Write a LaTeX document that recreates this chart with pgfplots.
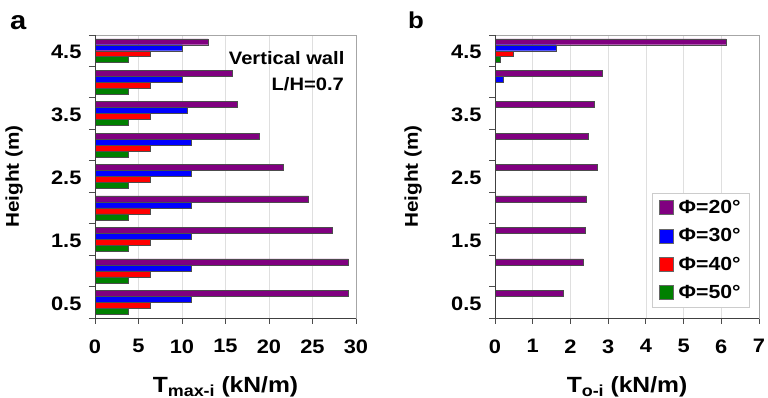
\documentclass[border=0pt]{standalone}
\usepackage{fontspec}
\setmainfont{Liberation Sans}[FakeStretch=1.12]
\usepackage{pgfplots}
\pgfplotsset{compat=1.18}
\definecolor{cpur}{RGB}{128,0,128}
\definecolor{cblu}{RGB}{0,0,255}
\definecolor{cred}{RGB}{255,0,0}
\definecolor{cgrn}{RGB}{0,128,0}
\newcommand{\fs}[1]{\bfseries\fontsize{#1}{#1}\selectfont}
\pgfplotsset{
  myaxis/.style={
    scale only axis, height=283pt,
    xbar, bar width=0.095,
    xmin=0, ymin=0.25, ymax=4.75,
    ytick={0.25,1.25,2.25,3.25,4.25},
    yticklabels={0.5,1.5,2.5,3.5,4.5},
    minor ytick={0.75,1.75,2.75,3.75,4.75},
    yticklabel style={yshift=14.5pt, xshift=-4pt},
    xticklabel style={yshift=-12pt},
    tick align=outside, major tick length=6pt, minor tick length=6pt,
    xtick pos=left, ytick pos=left,
    xmajorgrids, grid style={gray!25, line width=0.6pt},
    axis line style={gray!70, line width=0.8pt},
    tick style={black!70, line width=0.8pt},
    tick label style={font=\fs{19.5}},
    /pgf/number format/assume math mode=true,
    ylabel style={at={(axis description cs:-0.31,0.5)}, anchor=center, font=\fs{18.5}},
    xlabel style={at={(axis description cs:0.5,-0.2615)}, anchor=base, font=\fs{22}},
    legend image code/.code={\draw[##1,draw=black!60,line width=0.5pt] (0pt,-7pt) rectangle (14pt,7pt); \path (17pt,0pt);},
    after end axis/.code={\draw[black!75, line width=0.9pt] (rel axis cs:0,1) -- (rel axis cs:0,0) -- (rel axis cs:1,0);},
  },
  pbar/.style={fill=#1, draw=black!70, line width=0.4pt},
}
\begin{document}
\begin{tikzpicture}[x=1pt,y=1pt]
\useasboundingbox (0,0) rectangle (768,398);
\begin{axis}[myaxis, at={(95pt,80pt)}, anchor=south west, width=261pt,
  xmax=30, xtick={0,5,...,30},
  ylabel={Height (m)},
  xlabel={T\raisebox{-4pt}{\fs{16}max-i} (kN/m)}]
\addplot[pbar=cpur, bar shift=0.1425] coordinates {(29.15,0.5) (29.15,1.0) (27.3,1.5) (24.55,2.0) (21.6,2.5) (18.9,3.0) (16.4,3.5) (15.75,4.0) (13.0,4.5)};
\addplot[pbar=cblu, bar shift=0.0475] coordinates {(11.1,0.5) (11.1,1.0) (11.1,1.5) (11.1,2.0) (11.1,2.5) (11.1,3.0) (10.65,3.5) (10.0,4.0) (10.0,4.5)};
\addplot[pbar=cred, bar shift=-0.0475] coordinates {(6.3,0.5) (6.3,1.0) (6.3,1.5) (6.3,2.0) (6.3,2.5) (6.3,3.0) (6.3,3.5) (6.3,4.0) (6.3,4.5)};
\addplot[pbar=cgrn, bar shift=-0.1425] coordinates {(3.85,0.5) (3.85,1.0) (3.85,1.5) (3.85,2.0) (3.85,2.5) (3.85,3.0) (3.85,3.5) (3.85,4.0) (3.85,4.5)};
\node[anchor=base east, font=\fs{18}] at (rel axis cs:0.969,0.8975) {Vertical wall};
\node[anchor=base east, font=\fs{18}] at (rel axis cs:0.967,0.803) {L/H=0.7};
\end{axis}
\begin{axis}[myaxis, at={(495pt,80pt)}, anchor=south west, width=264pt,
  xmax=7, xtick={0,1,...,7},
  ylabel={Height (m)},
  xlabel={T\raisebox{-4pt}{\fs{16}o-i} (kN/m)},
  legend style={at={(rel axis cs:0.966,0.4417)}, anchor=north east, draw=gray!40, line width=0.7pt,
    font=\fs{19}, inner xsep=7pt, inner ysep=5pt, row sep=9.5pt, cells={anchor=west}}]
\addplot[pbar=cpur, bar shift=0.1425] coordinates {(1.80,0.5) (2.34,1.0) (2.40,1.5) (2.42,2.0) (2.70,2.5) (2.46,3.0) (2.62,3.5) (2.84,4.0) (6.13,4.5)};
\addlegendentry{Φ=20°}
\addplot[pbar=cblu, bar shift=0.0475] coordinates {(0.21,4.0) (1.63,4.5)};
\addlegendentry{Φ=30°}
\addplot[pbar=cred, bar shift=-0.0475] coordinates {(0.49,4.5)};
\addlegendentry{Φ=40°}
\addplot[pbar=cgrn, bar shift=-0.1425] coordinates {(0.15,4.5)};
\addlegendentry{Φ=50°}
\end{axis}
\node[anchor=base west, font=\fs{26}] at (6.7,368.7) {a};
\node[anchor=base west, font=\fs{23}] at (404.7,369.7) {b};
\end{tikzpicture}
\end{document}
